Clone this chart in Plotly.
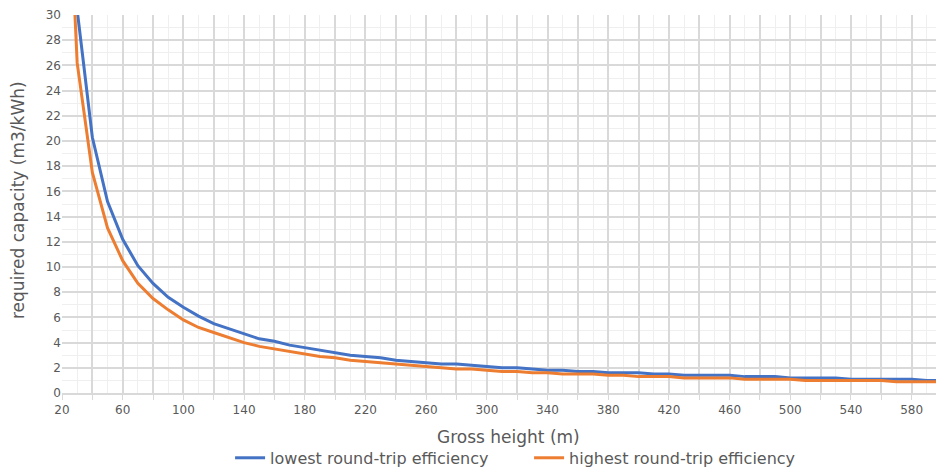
import plotly.graph_objects as go

heights = list(range(20, 601, 10))

lowest_eff = [60.8, 30.4, 20.3, 15.2, 12.2, 10.1, 8.7, 7.6, 6.8, 6.1,
              5.5, 5.1, 4.7, 4.3, 4.1, 3.8, 3.6, 3.4, 3.2, 3.0,
              2.9, 2.8, 2.6, 2.5, 2.4, 2.3, 2.3, 2.2, 2.1, 2.0,
              2.0, 1.9, 1.8, 1.8, 1.7, 1.7, 1.6, 1.6, 1.6, 1.5,
              1.5, 1.4, 1.4, 1.4, 1.4, 1.3, 1.3, 1.3, 1.2, 1.2,
              1.2, 1.2, 1.1, 1.1, 1.1, 1.1, 1.1, 1.0, 1.0]

highest_eff = [52.4, 26.2, 17.5, 13.1, 10.5, 8.7, 7.5, 6.6, 5.8, 5.2,
               4.8, 4.4, 4.0, 3.7, 3.5, 3.3, 3.1, 2.9, 2.8, 2.6,
               2.5, 2.4, 2.3, 2.2, 2.1, 2.0, 1.9, 1.9, 1.8, 1.7,
               1.7, 1.6, 1.6, 1.5, 1.5, 1.5, 1.4, 1.4, 1.3, 1.3,
               1.3, 1.2, 1.2, 1.2, 1.2, 1.1, 1.1, 1.1, 1.1, 1.0,
               1.0, 1.0, 1.0, 1.0, 1.0, 0.9, 0.9, 0.9, 0.9]

x_tickvals = list(range(20, 601, 20))
x_ticktext = [str(v) if (v - 20) % 40 == 0 else "" for v in x_tickvals]

x_title = "Gross height (m)"
y_title = "required capacity (m3/kWh)"

FONT = "'DejaVu Sans', sans-serif"
GRAY = "#595959"

fig = go.Figure()
fig.add_trace(go.Scatter(x=heights, y=lowest_eff, mode="lines",
                         name="lowest round-trip efficiency",
                         line=dict(color="#4472C4", width=3)))
fig.add_trace(go.Scatter(x=heights, y=highest_eff, mode="lines",
                         name="highest round-trip efficiency",
                         line=dict(color="#ED7D31", width=3)))

fig.update_layout(
    width=936, height=460,
    margin=dict(l=54, r=2, t=7, b=75, autoexpand=False),
    paper_bgcolor="white", plot_bgcolor="white",
    font=dict(family=FONT, color=GRAY, size=13),
    showlegend=True,
    legend=dict(orientation="h", x=0.191, xanchor="left",
                yref="container", y=0.022, yanchor="middle",
                entrywidth=254, entrywidthmode="pixels",
                font=dict(size=16, color=GRAY), itemwidth=30, tracegroupgap=0),
    annotations=[
        dict(text=x_title, xref="paper", yref="paper", x=0.507, y=-0.1164,
             xanchor="center", yanchor="middle", showarrow=False,
             font=dict(size=17, color=GRAY)),
        dict(text=y_title, xref="paper", yref="paper", x=-0.05, y=0.5106,
             xanchor="center", yanchor="middle", showarrow=False, textangle=-90,
             font=dict(size=17, color=GRAY)),
    ],
)
fig.update_xaxes(
    range=[20, 600], tickvals=x_tickvals, ticktext=x_ticktext,
    showgrid=True, gridcolor="#d9d9d9", gridwidth=1.5,
    minor=dict(dtick=10, showgrid=True, gridcolor="#efefef", gridwidth=1),
    showline=True, linecolor="#d9d9d9", linewidth=1.5,
    ticks="outside", ticklen=5, tickcolor="#d9d9d9",
    zeroline=False, automargin=False,
    tickfont=dict(size=12, color=GRAY),
)
fig.update_yaxes(
    range=[0, 30], dtick=2, tick0=0,
    showgrid=True, gridcolor="#d9d9d9", gridwidth=1.5,
    minor=dict(dtick=1, showgrid=True, gridcolor="#efefef", gridwidth=1),
    showline=False, zeroline=False, automargin=False,
    ticks="", tickfont=dict(size=12, color=GRAY),
)

fig.write_html("out.html")
